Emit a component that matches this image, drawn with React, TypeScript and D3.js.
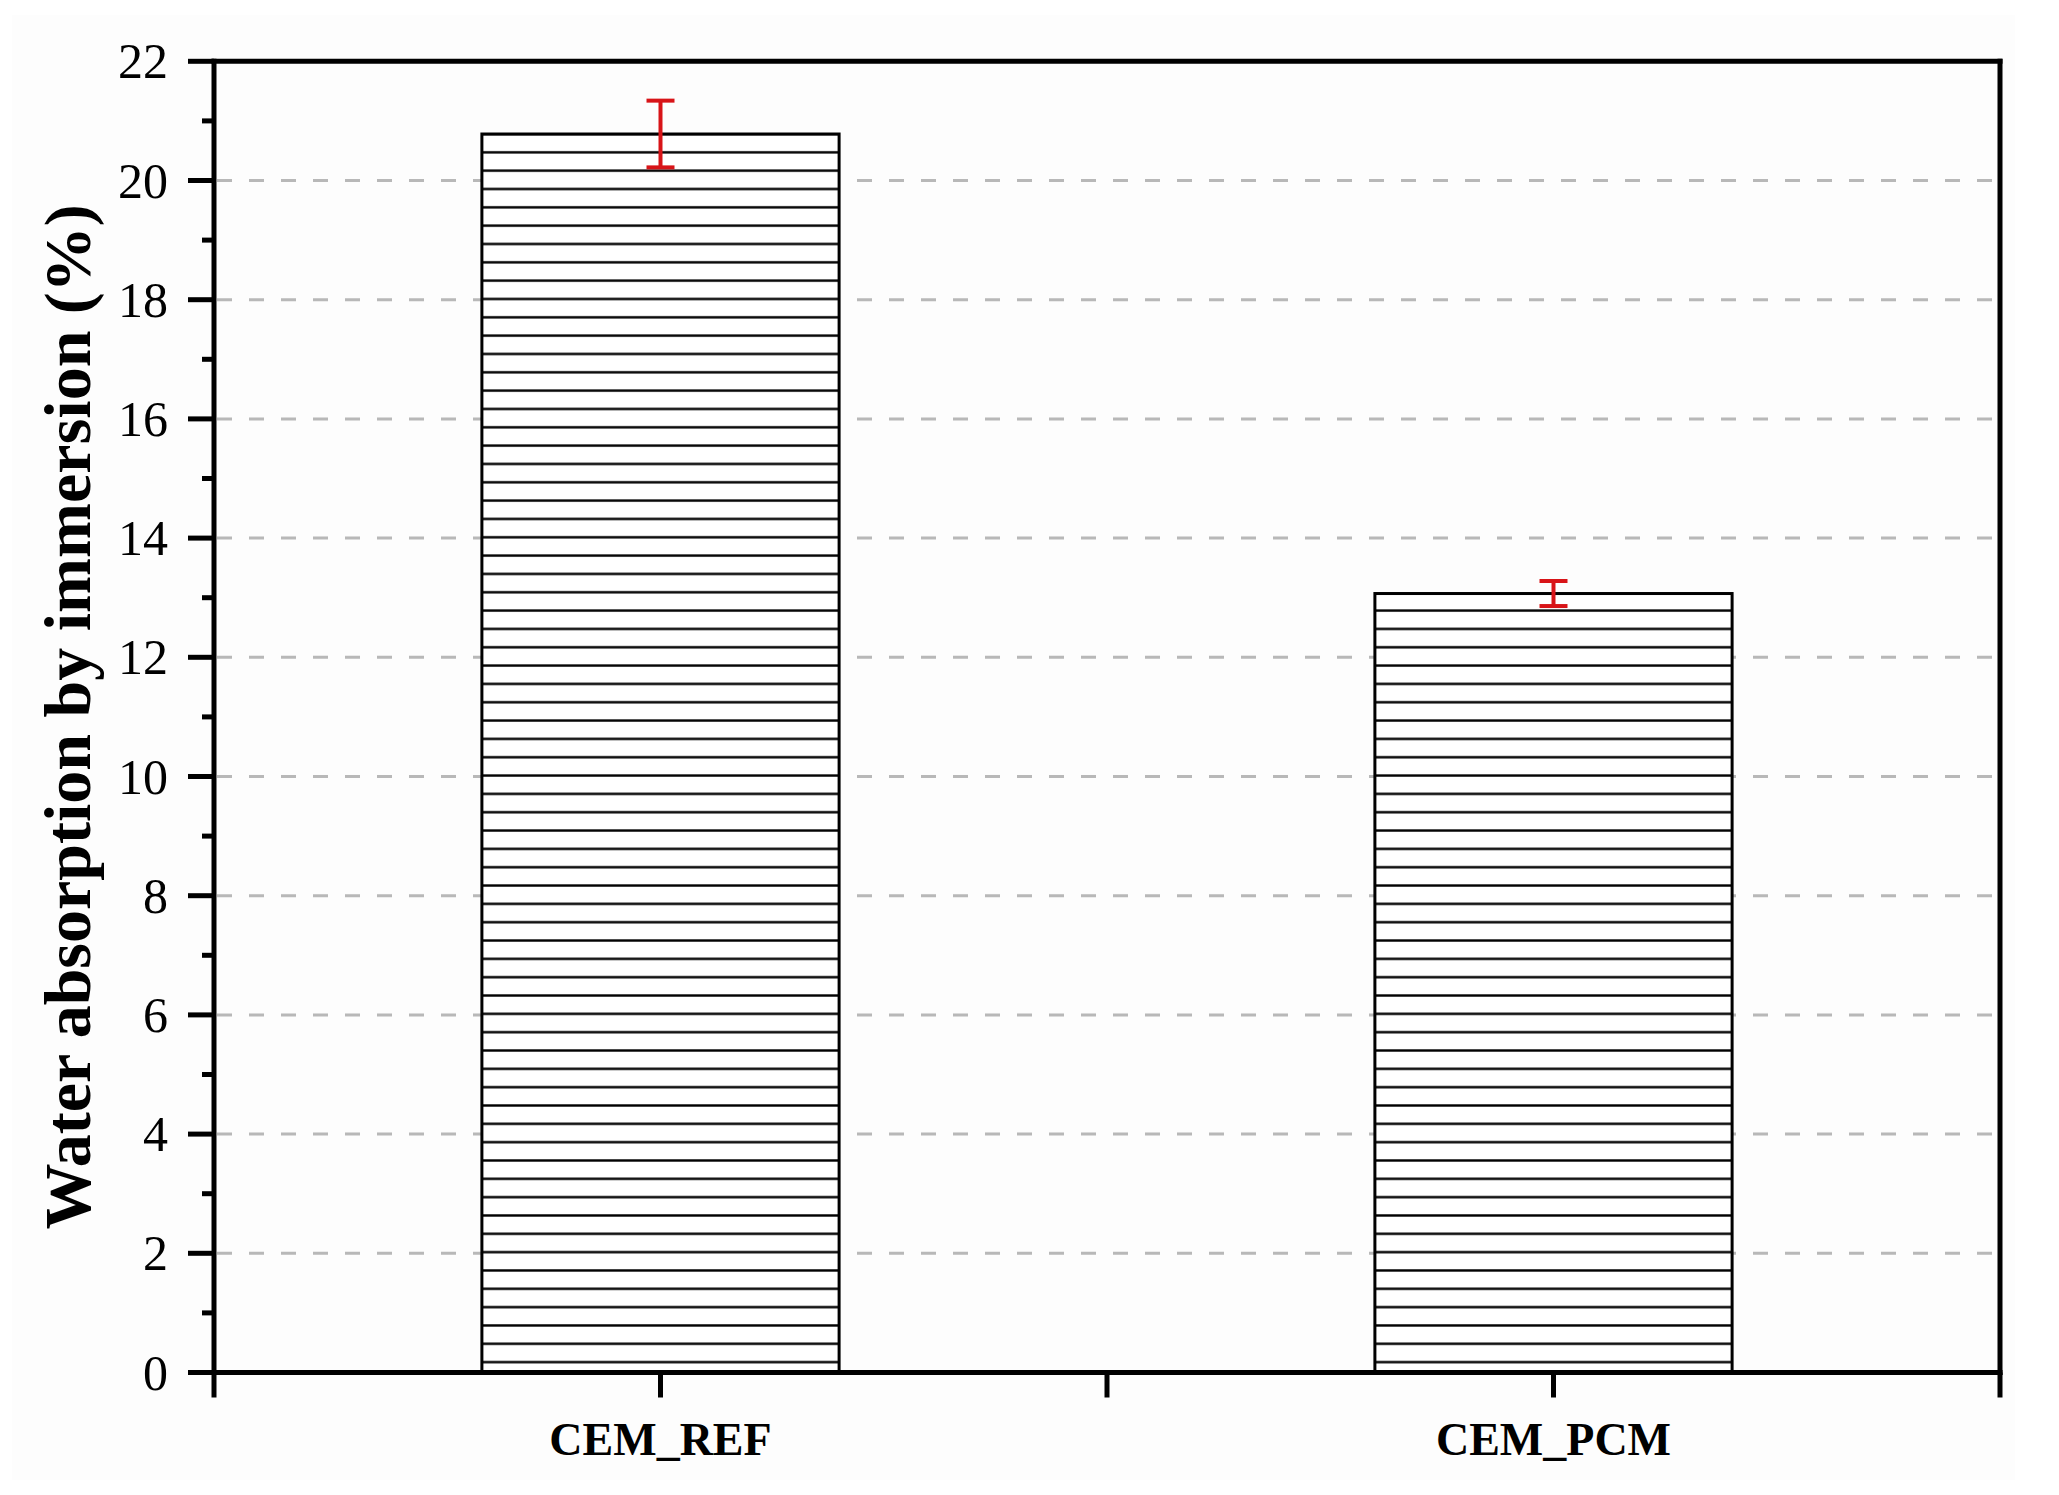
import React, { useEffect } from "react";
import * as d3 from "d3";

const categories = ["CEM_REF", "CEM_PCM"];
const values = [20.78, 13.07];
const errors = [0.56, 0.21];
const yMajorTicks = [0, 2, 4, 6, 8, 10, 12, 14, 16, 18, 20, 22];
const yMinorTicks = [1, 3, 5, 7, 9, 11, 13, 15, 17, 19, 21];
const xTicks = [0.5, 1, 1.5, 2, 2.5];
const yTitle = "Water absorption by immersion (%)";

const W = 2059;
const H = 1495;
const FONT = "'Liberation Serif', 'Times New Roman', serif";

export default function App() {
  useEffect(() => {
    document.body.style.margin = "0";
    document.body.style.overflow = "hidden";
  }, []);

  const x = d3.scaleLinear().domain([0.5, 2.5]).range([214, 2000]);
  const y = d3.scaleLinear().domain([0, 22]).range([1372.5, 61.3]);
  const barW = x(1.4) - x(1.0);
  const hatchStep = 18.33;
  const hatchAnchor = y(d3.max(values) as number);

  const x0 = x(0.5);
  const x1 = x(2.5);
  const yb = y(0);
  const yt = y(22);

  return (
    <svg width={W} height={H} style={{ position: "absolute", left: 0, top: 0, background: "#fff" }}>
      <defs>
        <pattern
          id="hatch"
          patternUnits="userSpaceOnUse"
          width={20}
          height={hatchStep}
          x={0}
          y={hatchAnchor - hatchStep / 2}
        >
          <line x1={0} x2={20} y1={hatchStep / 2} y2={hatchStep / 2} stroke="#000" strokeWidth={2.4} />
        </pattern>
      </defs>
      <rect x={0} y={0} width={W} height={H} fill="#fff" />
      <rect x={12} y={15} width={2003} height={1465} fill="#fdfdfd" />

      {/* grid */}
      {yMajorTicks
        .filter((t) => t > 0 && t < 22)
        .map((t) => (
          <line
            key={"g" + t}
            x1={x0 + 3}
            x2={x1 - 3}
            y1={y(t)}
            y2={y(t)}
            stroke="#b8b8b8"
            strokeWidth={3}
            strokeDasharray="15 17"
          />
        ))}

      {/* bars */}
      {categories.map((c, i) => {
        const cx = x(i + 1);
        const top = y(values[i]);
        return (
          <g key={c}>
            <rect x={cx - barW / 2} y={top} width={barW} height={yb - top} fill="#fff" />
            <rect x={cx - barW / 2} y={top} width={barW} height={yb - top} fill="url(#hatch)" />
            <rect
              x={cx - barW / 2}
              y={top}
              width={barW}
              height={yb - top}
              fill="none"
              stroke="#000"
              strokeWidth={3}
            />
          </g>
        );
      })}

      {/* error bars */}
      {categories.map((c, i) => {
        const cx = x(i + 1);
        const hi = y(values[i] + errors[i]);
        const lo = y(values[i] - errors[i]);
        return (
          <g key={"e" + c} stroke="#d81418">
            <line x1={cx} x2={cx} y1={hi} y2={lo} strokeWidth={4} />
            <line x1={cx - 14} x2={cx + 14} y1={hi} y2={hi} strokeWidth={4} />
            <line x1={cx - 14} x2={cx + 14} y1={lo} y2={lo} strokeWidth={4} />
          </g>
        );
      })}

      {/* frame */}
      <g stroke="#000" strokeWidth={5} strokeLinecap="square">
        <line x1={x0} x2={x1} y1={yt} y2={yt} />
        <line x1={x0} x2={x1} y1={yb} y2={yb} />
        <line x1={x0} x2={x0} y1={yt} y2={yb} />
        <line x1={x1} x2={x1} y1={yt} y2={yb} />
      </g>

      {/* y ticks */}
      <g stroke="#000" strokeWidth={5}>
        {yMajorTicks.map((t) => (
          <line key={"ym" + t} x1={x0 - 26} x2={x0} y1={y(t)} y2={y(t)} />
        ))}
        {yMinorTicks.map((t) => (
          <line key={"yn" + t} x1={x0 - 12} x2={x0} y1={y(t)} y2={y(t)} />
        ))}
      </g>

      {/* x ticks */}
      <g stroke="#000" strokeWidth={5}>
        {xTicks.map((t) => (
          <line key={"xt" + t} x1={x(t)} x2={x(t)} y1={yb} y2={yb + 25} />
        ))}
      </g>

      {/* y tick labels */}
      {yMajorTicks.map((t) => (
        <text
          key={"yl" + t}
          x={168}
          y={y(t) + 17}
          textAnchor="end"
          fontFamily={FONT}
          fontSize={50}
          fill="#000"
        >
          {t}
        </text>
      ))}

      {/* x labels */}
      {categories.map((c, i) => (
        <text
          key={"xl" + c}
          x={x(i + 1)}
          y={1455}
          textAnchor="middle"
          fontFamily={FONT}
          fontSize={46}
          fontWeight="bold"
          fill="#000"
        >
          {c}
        </text>
      ))}

      {/* y title */}
      <text
        transform={`translate(90, ${(yt + yb) / 2}) rotate(-90)`}
        textAnchor="middle"
        fontFamily={FONT}
        fontSize={66}
        fontWeight="bold"
        fill="#000"
      >
        {yTitle}
      </text>
    </svg>
  );
}
